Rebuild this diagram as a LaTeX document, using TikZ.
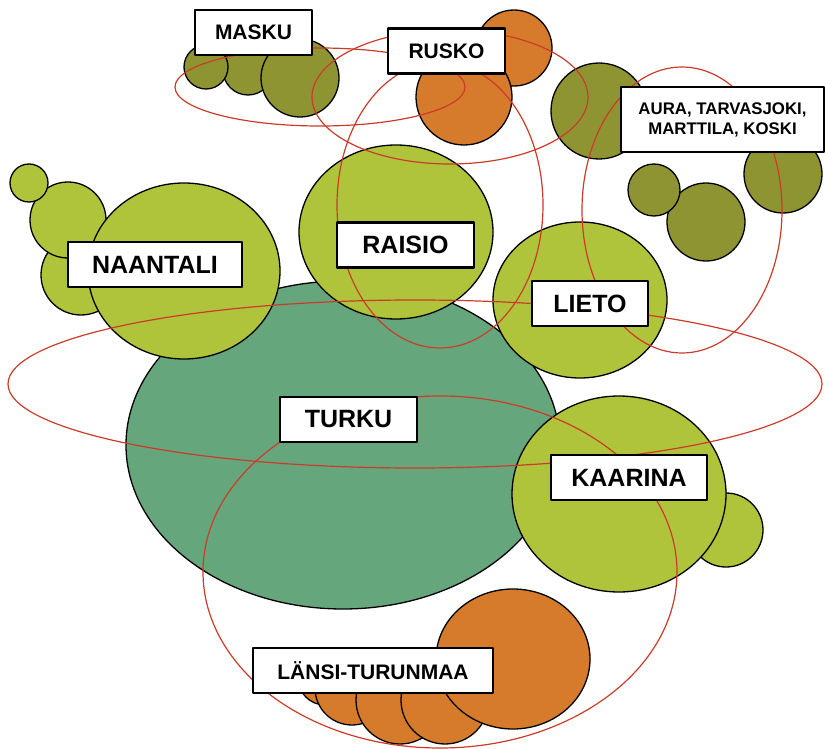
\documentclass[tikz,border=0pt]{standalone}
\usepackage{fontspec}
\setmainfont{Liberation Sans}
\definecolor{oliivi}{HTML}{8F9432}
\definecolor{oranssi}{HTML}{D67A2C}
\definecolor{keltavihrea}{HTML}{AFC43B}
\definecolor{vihrea}{HTML}{66A67C}
\definecolor{punainen}{HTML}{CC3B2A}
\tikzset{pallo/.style={draw=black, line width=1.3pt},
	rengas/.style={draw=punainen, line width=1.2pt},
	laatikko/.style={draw=black, fill=white, line width=2.6pt, inner sep=0pt, minimum height=45pt,
		font=\bfseries\fontsize{25}{28}\selectfont}}
\begin{document}
\begin{tikzpicture}[x=1pt, y=-1pt, line join=round, line cap=round]
			\useasboundingbox (0,0) rectangle (825,749);
			\foreach \x/\y/\r in {248/70/25,206/67/22,300/78/39}
			\draw[pallo, fill=oliivi] (\x,\y) circle(\r);% Masku
			\foreach \x/\y/\r in {514/48/38,464/97/48}
			\draw[pallo, fill=oranssi] (\x,\y) circle(\r);% Rusko
			\foreach \x/\y/\r in {599/111/48,706/222/39,654/190/26,783/174/39}
			\draw[pallo, fill=oliivi] (\x,\y) circle(\r);% Aura, Tarvasjoki, Marttila, Koski
			\draw[pallo, fill=vihrea] (343,445) ellipse[x radius=217, y radius=164];
			\foreach \x/\y/\r in {81/275/40,68/220/38,29/183/19}
			\draw[pallo, fill=keltavihrea] (\x,\y) circle(\r);
			\draw[pallo, fill=keltavihrea] (184,271) ellipse[x radius=96, y radius=88];
			\draw[pallo, fill=keltavihrea] (396,232) ellipse[x radius=97, y radius=87];
			\draw[pallo, fill=keltavihrea] (580,300) ellipse[x radius=87, y radius=78];
			\draw[pallo, fill=keltavihrea] (726,530) circle(37);
			\draw[pallo, fill=keltavihrea] (619,494) ellipse[x radius=107, y radius=98];
			\foreach \x/\y/\r in {325/678/27,352/688/37,400/700/44,445/700/44}
			\draw[pallo, fill=oranssi] (\x,\y) circle(\r);% Länsi-Turunmaa
			\draw[pallo, fill=oranssi] (513,659) ellipse[x radius=77, y radius=70];
			\foreach \x/\y/\a/\b in {320/87/145/39,450/97/138/67,440/205/103/143,682/210/100/143,415/384/407/84,440/572/237/176}
			\draw[rengas] (\x,\y) ellipse[x radius=\a, y radius=\b];
			\node[laatikko, minimum width=117pt, font=\bfseries\fontsize{21}{24}\selectfont] (masku) at (253.5,32.5) {MASKU};
			\node[laatikko, minimum width=117pt, font=\bfseries\fontsize{21}{24}\selectfont] (rusko) at (446.5,51) {RUSKO};
			\node[laatikko, minimum width=203pt, minimum height=65pt, align=center,
				font=\bfseries\fontsize{16.8}{20}\selectfont] (aura) at (722.5,119.5) {AURA, TARVASJOKI,\\MARTTILA, KOSKI};
			\node[laatikko, minimum width=174pt] (naantali) at (155,264.5) {NAANTALI};
			\node[laatikko, minimum width=137pt] (raisio) at (405.5,245) {RAISIO};
			\node[laatikko, minimum width=116pt] (lieto) at (590,303.5) {LIETO};
			\node[laatikko, minimum width=137pt] (turku) at (348.5,419.5) {TURKU};
			\node[laatikko, minimum width=156pt] (kaarina) at (629,477.5) {KAARINA};
			\node[laatikko, minimum width=240pt, font=\bfseries\fontsize{21}{24}\selectfont] (lansi) at (373,670.5) {LÄNSI-TURUNMAA};
		\end{tikzpicture}
\end{document}
